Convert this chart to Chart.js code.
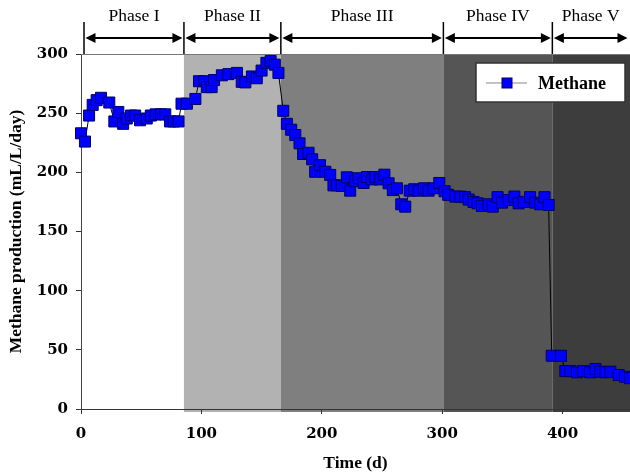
<!DOCTYPE html>
<html>
<head>
<meta charset="utf-8">
<script src="https://cdn.jsdelivr.net/npm/chart.js@4/dist/chart.umd.min.js"></script>
<style>
  body { margin: 0; background: #fff; }
  #wrap { width: 630px; height: 475px; }
</style>
</head>
<body>
<div id="wrap"><canvas id="mainChart"></canvas></div>
<script>
// time (d) and methane production (mL/L/day)
const days = [
    0, 3.3, 6.7, 9.7, 13, 16.6, 23.5, 27.7, 31, 35, 38, 41.6, 45, 49, 54.6, 58, 62, 66.5, 70, 74, 77, 81, 83.5,
    88, 95, 98, 102.5, 104.5, 108.5, 110.5, 117, 122.5, 129.5, 133.5, 136.5, 142, 146, 150, 154, 157.5, 161, 164,
    168, 171, 174.6, 178, 181.5, 184.5, 189, 192, 194.5, 198.5, 203, 207, 209.7, 212.5, 216.7, 220.8, 223.6,
    227.8, 230.5, 234.7, 237.5, 241.6, 244.4, 248.5, 252, 255.5, 259, 262.4, 266, 269.3, 273, 276.8, 280.4,
    285, 288.7, 292.8, 297.6,
    302, 305, 311, 315, 319, 322, 326, 329.4, 333, 338.6, 342, 346, 349.7, 355, 360, 363.5, 367.7, 373, 377.4,
    381.5, 385, 388.4,
    391, 398.7, 402.3, 406.5, 412, 417, 423, 427.3, 431.4, 435.6, 439.7, 446.6, 452, 456
];
const methane = [
    233, 226, 248, 257, 261, 263, 259, 243, 251, 241, 245.5, 248, 248, 244, 245.5, 248, 249, 249, 249, 243, 243, 243, 258,
    258, 262, 277, 277, 272, 272, 278, 282, 283, 284, 276.5, 276, 281, 279.5, 286, 292.5, 294, 291, 284,
    252, 241, 236, 231.5, 224.5, 215.5, 216.5, 211, 200.5, 206, 200.5, 197.8, 189, 189, 188.5, 195.8, 184.5,
    192.5, 195, 191, 196, 194, 196, 194, 198, 190.7, 185, 186.5, 173, 171, 184.5, 185.7, 184.5,
    186.5, 184.5, 186.5, 191,
    184, 181, 179.5, 179.5, 179, 177, 175, 173.8, 171.5, 173, 171, 179, 174.4, 176.6, 179.5, 173.8, 175, 179, 174.4,
    173, 179, 172.4,
    45, 45, 32, 32, 31, 32, 31, 33.8, 31.5, 31, 31.5, 28.7, 27.3, 26
];

const phaseNames = ['Phase I', 'Phase II', 'Phase III', 'Phase IV', 'Phase V'];
const phaseBounds = [2.5, 85.5, 166, 301, 391.5, 456];

const xTickValues = [0, 100, 200, 300, 400];
const yTickValues = [0, 50, 100, 150, 200, 250, 300];

const phaseShades = ['#ffffff', '#b2b2b2', '#7f7f7f', '#555555', '#3d3d3d'];

function drawArrowHead(ctx, x, y, dir) {
    ctx.beginPath();
    ctx.moveTo(x, y);
    ctx.lineTo(x - dir * 10, y - 5);
    ctx.lineTo(x - dir * 10, y + 5);
    ctx.closePath();
    ctx.fill();
}

const phasePlugin = {
    id: 'phases',
    beforeDraw(chart) {
        const {ctx, chartArea, scales: {x}} = chart;
        ctx.save();
        for (let i = 0; i < phaseNames.length; i++) {
            const x0 = x.getPixelForValue(phaseBounds[i]);
            const x1 = Math.min(x.getPixelForValue(phaseBounds[i + 1]), chartArea.right);
            ctx.fillStyle = phaseShades[i];
            ctx.fillRect(x0, chartArea.top, x1 - x0, chartArea.bottom - chartArea.top + 3);
        }
        ctx.restore();
    },
    afterDraw(chart) {
        const {ctx, chartArea, scales: {x}} = chart;
        ctx.save();
        // top frame line
        ctx.strokeStyle = '#777';
        ctx.lineWidth = 1;
        ctx.beginPath();
        ctx.moveTo(chartArea.left, chartArea.top + 0.5);
        ctx.lineTo(chartArea.right, chartArea.top + 0.5);
        ctx.stroke();

        const arrowY = 38;
        ctx.strokeStyle = '#000';
        ctx.fillStyle = '#000';
        for (let i = 0; i < phaseNames.length; i++) {
            const xa = x.getPixelForValue(phaseBounds[i]);
            const xb = Math.min(x.getPixelForValue(phaseBounds[i + 1]), chartArea.right - 1);
            ctx.lineWidth = 1.5;
            ctx.beginPath();
            ctx.moveTo(xa, 22);
            ctx.lineTo(xa, chartArea.top);
            ctx.stroke();
            ctx.lineWidth = 2;
            ctx.beginPath();
            ctx.moveTo(xa + 4, arrowY);
            ctx.lineTo(xb - 4, arrowY);
            ctx.stroke();
            drawArrowHead(ctx, xa + 1.5, arrowY, -1);
            drawArrowHead(ctx, xb - 1.5, arrowY, 1);

            ctx.font = '17.5px "Liberation Serif"';
            ctx.textAlign = 'center';
            ctx.textBaseline = 'middle';
            ctx.fillText(phaseNames[i], (xa + xb) / 2, 16);
        }

        // legend box
        const bx = chartArea.right - 154, by = chartArea.top + 9;
        ctx.fillStyle = '#fff';
        ctx.fillRect(bx, by, 149, 39);
        ctx.strokeStyle = '#333';
        ctx.lineWidth = 1.5;
        ctx.strokeRect(bx, by, 149, 39);
        const ly = by + 20;
        ctx.strokeStyle = '#888';
        ctx.lineWidth = 1;
        ctx.beginPath();
        ctx.moveTo(bx + 10, ly);
        ctx.lineTo(bx + 51, ly);
        ctx.stroke();
        ctx.fillStyle = '#0000ff';
        ctx.fillRect(bx + 26, ly - 5, 10, 10);
        ctx.strokeStyle = '#000066';
        ctx.strokeRect(bx + 26, ly - 5, 10, 10);
        ctx.fillStyle = '#000';
        ctx.font = 'bold 18px "Liberation Serif"';
        ctx.textAlign = 'left';
        ctx.textBaseline = 'middle';
        ctx.fillText('Methane', bx + 62, ly + 1);
        ctx.restore();
    }
};

function setupCanvas() {
    const ctx = document.getElementById('mainChart').getContext('2d');
    const points = days.map((d, i) => ({x: d, y: methane[i]}));
    const tickFont = {family: '"DejaVu Serif"', weight: 'bold', size: 15};
    const titleFont = {family: '"Liberation Serif"', weight: 'bold', size: 17.5};
    const config = {
        type: 'line',
        data: {
            datasets: [{
                label: 'Methane',
                data: points,
                borderColor: '#000',
                borderWidth: 1,
                backgroundColor: '#0000ff',
                pointStyle: 'rect',
                pointRadius: 7.8,
                pointBackgroundColor: '#0000ff',
                pointBorderColor: '#000066',
                pointBorderWidth: 1,
                tension: 0,
                clip: false
            }]
        },
        options: {
            responsive: true,
            maintainAspectRatio: false,
            animation: false,
            events: [],
            layout: {autoPadding: false, padding: {top: 54, right: 0, left: 0, bottom: 0}},
            plugins: {
                legend: {display: false},
                tooltip: {enabled: false}
            },
            scales: {
                x: {
                    type: 'linear',
                    min: 0,
                    max: 456,
                    afterFit: (scale) => {
                        scale.height = 66;
                        scale.paddingLeft = 0;
                        scale.paddingRight = 0;
                    },
                    afterBuildTicks: (scale) => { scale.ticks = xTickValues.map(v => ({value: v})); },
                    ticks: {
                        color: '#000',
                        font: tickFont,
                        padding: 11,
                        autoSkip: false,
                        maxRotation: 0,
                        includeBounds: false
                    },
                    grid: {display: true, drawOnChartArea: false, drawTicks: true, tickLength: 5, color: '#333'},
                    border: {display: true, color: '#333', width: 1},
                    title: {display: true, text: 'Time (d)', color: '#000', font: titleFont, padding: {top: 0, bottom: 1}}
                },
                y: {
                    min: 0,
                    max: 300,
                    afterFit: (scale) => { scale.width = 81; },
                    afterBuildTicks: (scale) => { scale.ticks = yTickValues.map(v => ({value: v})); },
                    ticks: {color: '#000', font: tickFont, padding: 8},
                    grid: {display: true, drawOnChartArea: false, drawTicks: true, tickLength: 5, color: '#333'},
                    border: {display: true, color: '#444', width: 1},
                    title: {display: true, text: 'Methane production (mL/L/day)', color: '#000', font: titleFont, padding: {top: 6, bottom: 0}}
                }
            }
        },
        plugins: [phasePlugin]
    };
    return new Chart(ctx, config);
}

const mainChart = setupCanvas();
</script>
</body>
</html>
